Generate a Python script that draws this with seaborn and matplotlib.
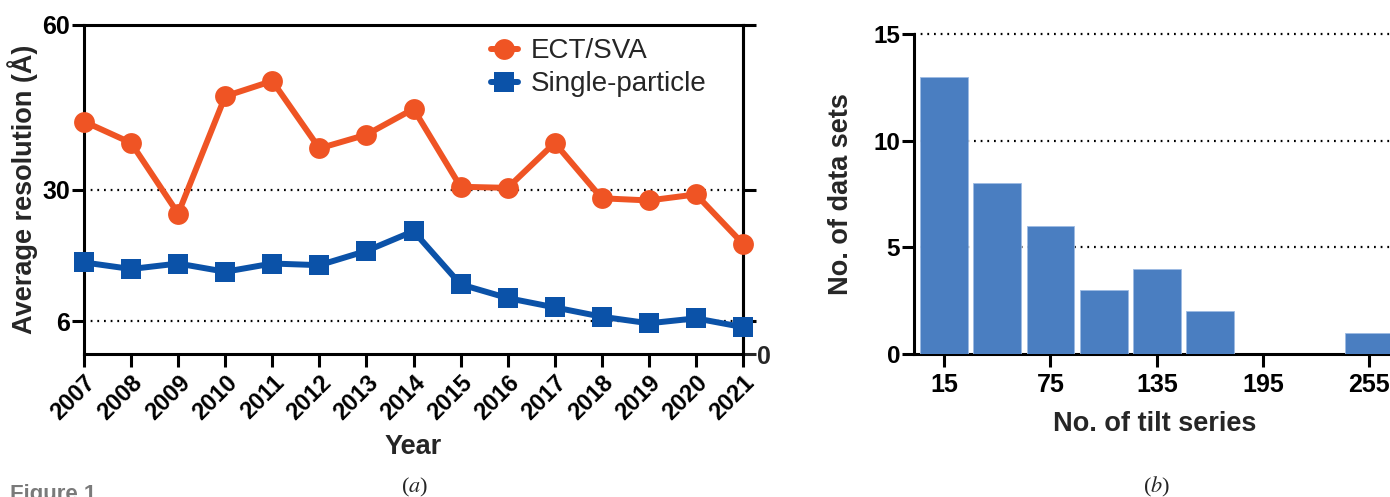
import matplotlib
matplotlib.use("Agg")
import matplotlib.pyplot as plt
import numpy as np
import pandas as pd
import seaborn as sns

# ---- data ----
years = list(range(2007, 2022))
ect_sva = [42.4, 38.5, 25.6, 47.0, 49.8, 37.5, 40.0, 44.7, 30.5, 30.3, 38.5, 28.4, 28.0, 29.1, 20.1]
single_particle = [16.7, 15.5, 16.5, 15.0, 16.5, 16.2, 18.8, 22.4, 12.7, 10.2, 8.5, 6.8, 5.6, 6.5, 4.9]

bin_centers = [15, 45, 75, 105, 135, 165, 195, 225, 255]
bin_counts = [13, 8, 6, 3, 4, 2, 0, 0, 1]
bin_width = 30
tilt_ticks = [15, 75, 135, 195, 255]

ECT_COLOR = "#EF5424"
SP_COLOR = "#0B52A8"
BAR_COLOR = "#4A7EC1"

sns.set_theme(style="ticks")
plt.rcParams["font.family"] = ["Liberation Sans", "DejaVu Sans"]
plt.rcParams["mathtext.fontset"] = "stix"

W, H = 1390, 497
fig = plt.figure(figsize=(W / 100, H / 100), dpi=100)


def box(l, t, r, b):
    return [l / W, 1 - b / H, (r - l) / W, (b - t) / H]


SPINE_W = 2.2
TICK_L = 9
dot = (0, (0.8, 2.2))

# ---- panel (a) ----
ax = fig.add_axes(box(84, 25, 743, 354))
df = pd.DataFrame({"Year": years, "ECT/SVA": ect_sva, "Single-particle": single_particle})
sns.lineplot(data=df, x="Year", y="ECT/SVA", ax=ax, color=ECT_COLOR, lw=4.3,
             marker="o", markersize=15, markeredgewidth=0, label="ECT/SVA", clip_on=False, zorder=4)
sns.lineplot(data=df, x="Year", y="Single-particle", ax=ax, color=SP_COLOR, lw=4.3,
             marker="s", markersize=14, markeredgewidth=0, label="Single-particle", clip_on=False, zorder=4)
ax.set_xlim(2007, 2021)
ax.set_ylim(0, 60)
for g in (6, 30):
    ax.axhline(g, color="black", lw=1.6, ls=dot, zorder=1)
ax.set_yticks([6, 30, 60])
ax.set_yticklabels(["6", "30", "60"], fontsize=18, fontweight="bold")
ax.set_xticks(years)
ax.set_xticklabels([str(y) for y in years], fontsize=17, fontweight="bold",
                   rotation=45, ha="right", rotation_mode="anchor")
for s in ax.spines.values():
    s.set_visible(True)
    s.set_linewidth(SPINE_W)
    s.set_color("black")
ax.tick_params(axis="y", right=True, labelright=False, length=TICK_L, width=SPINE_W, pad=1, colors="black")
ax.tick_params(axis="x", length=TICK_L, width=SPINE_W, pad=3, colors="black")
sec = ax.secondary_yaxis("right")
sec.set_yticks([0])
sec.set_yticklabels(["0"], fontsize=18, fontweight="bold")
sec.tick_params(length=TICK_L, width=SPINE_W, pad=1)
sec.spines["right"].set_linewidth(SPINE_W)
ax.set_xlabel("Year", fontsize=19.5, fontweight="bold", labelpad=7)
ax.set_ylabel("Average resolution (Å)", fontsize=19.5, fontweight="bold")
ax.yaxis.set_label_coords(-0.07, 0.5)
leg = ax.legend(loc="center left", bbox_to_anchor=(0.6, 0.87), frameon=False, fontsize=20,
                handlelength=1.0, handletextpad=0.45, labelspacing=0.25, borderaxespad=0)

# ---- panel (b) ----
bx = fig.add_axes(box(914, 34, 1396, 354))
hist_df = pd.DataFrame({"tilt": bin_centers, "count": bin_counts})
sns.histplot(data=hist_df, x="tilt", weights="count", binwidth=bin_width, binrange=(0, 270), ax=bx,
             color=BAR_COLOR, alpha=1, shrink=0.9, edgecolor="#9DBBE3", linewidth=0.6, zorder=3)
bx.set_xlim(-2, 270)
bx.set_ylim(0, 15)
for g in (5, 10, 15):
    bx.axhline(g, color="black", lw=1.6, ls=dot, zorder=1, clip_on=False)
bx.set_yticks([0, 5, 10, 15])
bx.set_yticklabels(["0", "5", "10", "15"], fontsize=17.5, fontweight="bold")
bx.set_xticks(tilt_ticks)
bx.set_xticklabels([str(t) for t in tilt_ticks], fontsize=18, fontweight="bold")
sns.despine(ax=bx)
for side in ("left", "bottom"):
    bx.spines[side].set_linewidth(SPINE_W)
    bx.spines[side].set_color("black")
bx.tick_params(axis="y", length=TICK_L, width=SPINE_W, pad=1, colors="black")
bx.tick_params(axis="x", length=TICK_L, width=SPINE_W, pad=5, colors="black")
bx.set_xlabel("No. of tilt series", fontsize=19.5, fontweight="bold", labelpad=10)
bx.set_ylabel("No. of data sets", fontsize=19.5, fontweight="bold", labelpad=14)

# ---- captions ----
fig.text(415 / W, 1 - 487 / H, r"($\mathit{a}$)", ha="center", va="center", fontsize=16,
         family="Liberation Serif")
fig.text(1157 / W, 1 - 487 / H, r"($\mathit{b}$)", ha="center", va="center", fontsize=16,
         family="Liberation Serif")
fig.text(10 / W, 1 - 484 / H, "Figure 1.", ha="left", va="top", fontsize=16,
         fontweight="bold", color="#7a7a7a")

fig.savefig("out.png", dpi=100)
